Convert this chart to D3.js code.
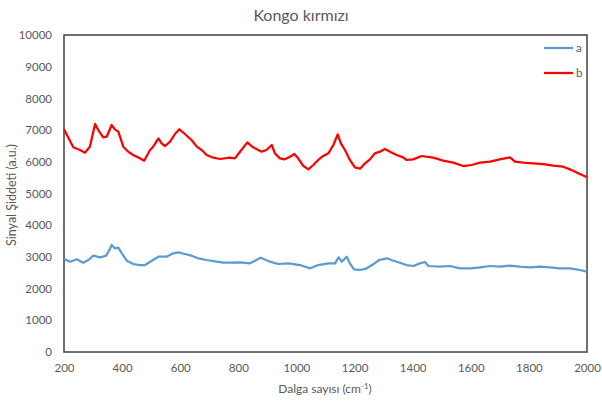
<!DOCTYPE html>
<html><head><meta charset="utf-8">
<script src="https://cdn.jsdelivr.net/npm/d3@7/dist/d3.min.js"></script>
<style>body{margin:0;background:#fff}svg{display:block}</style>
</head><body><svg id="c" width="602" height="409"></svg>
<script>
const title = "Kongo kırmızı";
const xLabel = "Dalga sayısı (cm";
const yLabel = "Sinyal Şiddeti (a.u.)";
const xTicks = [200,400,600,800,1000,1200,1400,1600,1800,2000];
const yTicks = [0,1000,2000,3000,4000,5000,6000,7000,8000,9000,10000];
const seriesNames = ["a","b"];
const aX = [200,221,244,266,284,301,324,345,356,364,375,387,399,416,438,461,479,502,525,553,576,593,616,639,662,691,725,748,771,806,840,877,909,937,972,1012,1047,1075,1110,1133,1145,1156,1173,1184,1198,1219,1242,1264,1285,1311,1334,1356,1379,1402,1425,1442,1454,1494,1528,1563,1597,1632,1666,1700,1735,1769,1804,1838,1872,1907,1941,1975,2000];
const aY = [2934,2849,2924,2817,2902,3038,2987,3038,3218,3375,3271,3290,3114,2880,2776,2744,2744,2880,3006,3006,3114,3145,3091,3038,2956,2902,2849,2817,2817,2830,2796,2976,2849,2776,2796,2744,2640,2744,2796,2796,2987,2849,3006,2796,2609,2587,2640,2766,2902,2956,2880,2817,2744,2713,2796,2839,2713,2691,2713,2640,2640,2670,2713,2691,2723,2691,2670,2691,2670,2640,2640,2587,2534];
const bX = [200,232,255,272,289,307,318,335,347,364,375,387,404,421,438,461,476,496,507,525,536,548,565,582,597,616,639,657,674,691,714,737,771,788,806,831,851,880,897,915,926,943,960,978,993,1006,1024,1041,1058,1075,1092,1110,1127,1142,1153,1167,1184,1201,1219,1236,1253,1270,1287,1305,1322,1345,1367,1379,1402,1431,1471,1505,1540,1574,1603,1632,1666,1700,1735,1752,1781,1815,1850,1884,1918,1941,1970,2000];
const bY = [7025,6457,6372,6287,6477,7192,7003,6772,6792,7161,7025,6950,6477,6319,6215,6109,6035,6372,6477,6740,6583,6498,6635,6877,7025,6877,6688,6477,6372,6215,6130,6088,6130,6109,6319,6614,6457,6319,6372,6530,6267,6109,6077,6161,6246,6109,5867,5762,5899,6057,6183,6267,6530,6867,6583,6372,6057,5825,5783,5952,6077,6267,6319,6404,6319,6215,6140,6057,6077,6183,6130,6035,5972,5867,5899,5972,6004,6077,6140,6004,5972,5952,5930,5877,5846,5762,5636,5510];
const colors = ["#5B9BD5","#FF0000"];

const svg = d3.select("#c");
const font = "Lato, 'Open Sans', sans-serif";
const txt = "#595959";
const L=64,R=587,T=35,B=352;
const x = d3.scaleLinear().domain([200,2000]).range([L,R]);
const y = d3.scaleLinear().domain([0,10000]).range([B,T]);

svg.append("text").attr("x",301).attr("y",21).attr("text-anchor","middle")
  .attr("font-family",font).attr("font-size",16).attr("fill",txt).text(title);

const gy = svg.append("g").attr("transform",`translate(${L},0)`)
  .call(d3.axisLeft(y).tickValues(yTicks).tickSize(0).tickPadding(12).tickFormat(d3.format("d")));
const gx = svg.append("g").attr("transform",`translate(0,${B})`)
  .call(d3.axisBottom(x).tickValues(xTicks).tickSize(0).tickPadding(12).tickFormat(d3.format("d")));
[gx,gy].forEach(g=>{g.select(".domain").remove();
  g.selectAll("text").attr("font-family",font).attr("font-size",11.5).attr("fill",txt);});

svg.append("rect").attr("x",L).attr("y",T).attr("width",R-L).attr("height",B-T)
  .attr("fill","none").attr("stroke","#404040").attr("stroke-width",1.5);

const line = d3.line().x(d=>x(d[0])).y(d=>y(d[1]));
const data = [d3.zip(aX,aY), d3.zip(bX,bY)];
data.forEach((d,i)=>{
  svg.append("path").datum(d).attr("d",line).attr("fill","none")
    .attr("stroke",colors[i]).attr("stroke-width",2.25).attr("stroke-linejoin","round");
});

const leg = svg.append("g");
seriesNames.forEach((n,i)=>{
  const yy = 48 + i*25;
  leg.append("line").attr("x1",544).attr("x2",573).attr("y1",yy).attr("y2",yy)
    .attr("stroke",colors[i]).attr("stroke-width",2.25);
  leg.append("text").attr("x",576).attr("y",yy+4).attr("font-family",font)
    .attr("font-size",11.5).attr("fill",txt).text(n);
});

const xl = svg.append("text").attr("x",325).attr("y",393).attr("text-anchor","middle")
  .attr("font-family",font).attr("font-size",12).attr("fill",txt);
xl.append("tspan").text(xLabel);
xl.append("tspan").attr("dy",-4).attr("font-size",8).text("-1");
xl.append("tspan").attr("dy",4).text(")");

svg.append("text").attr("transform","translate(16,195) rotate(-90)").attr("text-anchor","middle")
  .attr("font-family",font).attr("font-size",12.5).attr("fill",txt).text(yLabel);
</script></body></html>
